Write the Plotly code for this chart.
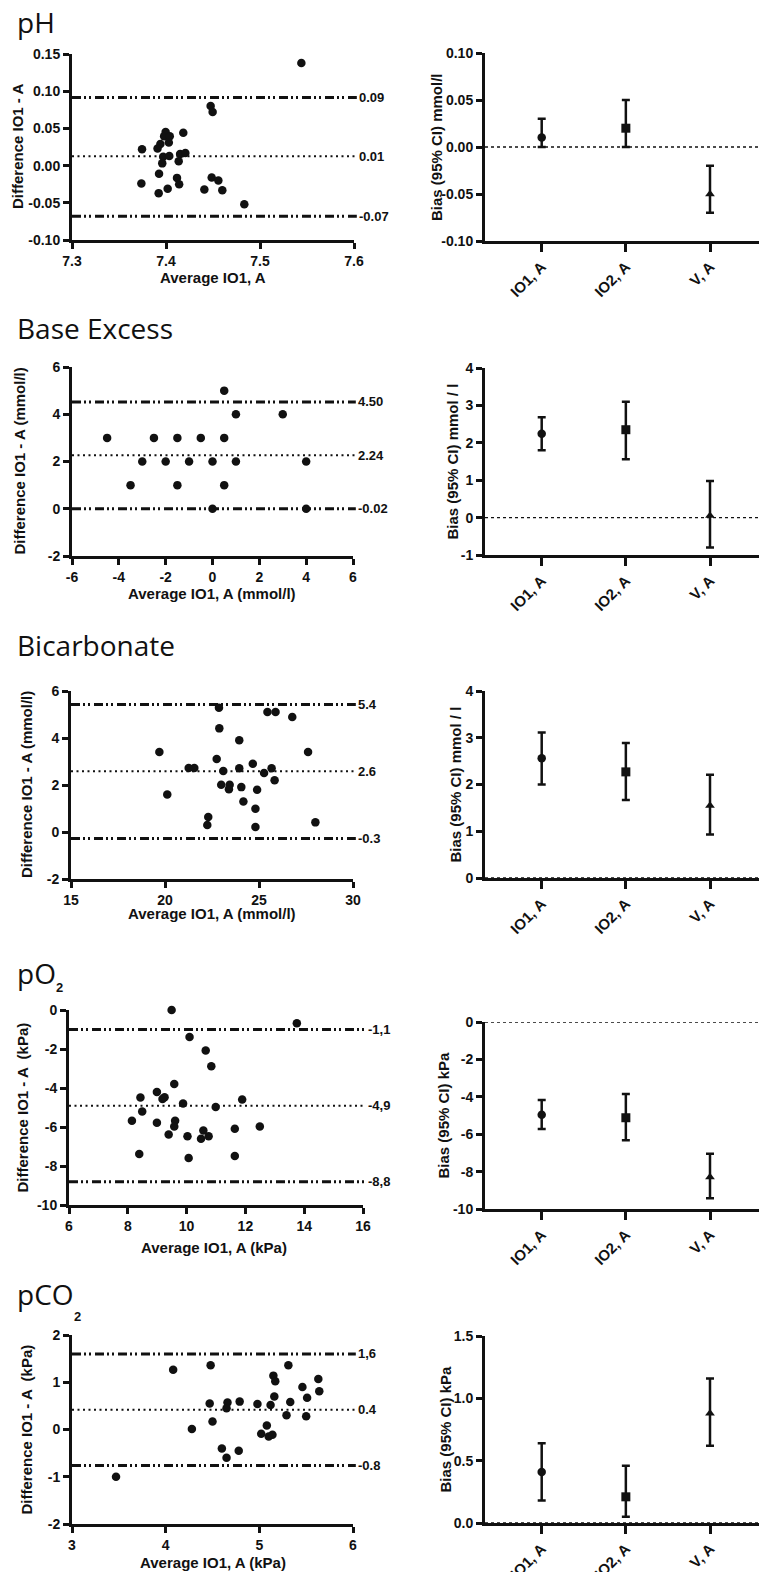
import plotly.graph_objects as go

W, H = 759, 1572

# ---------------- data ----------------
panel_titles = ["pH", "Base Excess", "Bicarbonate", "pO", "pCO"]
title_subscripts = ["", "", "", "2", "2"]
categories = ["IO1, A", "IO2, A", "V, A"]
category_symbols = ["circle", "square", "triangle-up"]

x_titles = ["Average IO1, A", "Average IO1, A (mmol/l)", "Average IO1, A (mmol/l)",
            "Average IO1, A (kPa)", "Average IO1, A (kPa)"]
y_titles = ["Difference IO1 - A", "Difference IO1 - A (mmol/l)", "Difference IO1 - A (mmol/l)",
            "Difference IO1 - A  (kPa)", "Difference IO1 - A  (kPa)"]
bias_titles = ["Bias (95% CI) mmol/l", "Bias (95% CI) mmol / l", "Bias (95% CI) mmol / l",
               "Bias (95% CI) kPa", "Bias (95% CI) kPa"]

# pH
ph_avg = [7.544, 7.4475, 7.4496, 7.4184, 7.3996, 7.398, 7.404, 7.403, 7.394, 7.391,
          7.3745, 7.397, 7.4035, 7.415, 7.4206, 7.4135, 7.396, 7.3926, 7.4117, 7.414,
          7.3738, 7.4018, 7.3922, 7.4408, 7.4486, 7.4557, 7.4599, 7.4833]
ph_diff = [0.138, 0.080, 0.072, 0.044, 0.045, 0.0395, 0.0395, 0.031, 0.029, 0.023,
           0.022, 0.012, 0.013, 0.0155, 0.017, 0.006, 0.003, -0.011, -0.0165, -0.025,
           -0.024, -0.031, -0.037, -0.032, -0.016, -0.020, -0.033, -0.052]
ph_limits = [0.0915, 0.0125, -0.068]
ph_limit_labels = ["0.09", "0.01", "-0.07"]
ph_bias = [0.01, 0.02, -0.05]
ph_ci_low = [0.0, 0.0, -0.07]
ph_ci_high = [0.03, 0.05, -0.02]

# Base excess
be_avg = [0.5, 1.0, 3.0, -4.5, -2.5, -1.5, -0.5, 0.5, -3.0, -2.0, -1.0, 0.0, 1.0, 4.0,
          -3.5, -1.5, 0.5, 0.0, 4.0]
be_diff = [5, 4, 4, 3, 3, 3, 3, 3, 2, 2, 2, 2, 2, 2, 1, 1, 1, 0, 0]
be_limits = [4.52, 2.26, 0.0]
be_limit_labels = ["4.50", "2.24", "-0.02"]
be_bias = [2.24, 2.35, 0.05]
be_ci_low = [1.80, 1.56, -0.80]
be_ci_high = [2.68, 3.10, 0.98]

# Bicarbonate
hco3_avg = [19.70, 20.12, 21.26, 21.56, 22.30, 22.25, 22.75, 22.87, 22.89, 23.10, 22.99,
            23.44, 23.40, 23.95, 23.95, 24.06, 24.17, 24.67, 24.81, 24.81, 24.90, 25.27,
            25.45, 25.88, 25.67, 25.83, 26.77, 27.61, 28.00]
hco3_diff = [3.40, 1.60, 2.72, 2.72, 0.64, 0.30, 3.11, 5.29, 4.41, 2.60, 2.01,
             2.01, 1.82, 3.90, 2.71, 1.91, 1.30, 2.90, 0.99, 0.21, 1.80, 2.51,
             5.11, 5.11, 2.71, 2.20, 4.89, 3.40, 0.41]
hco3_limits = [5.43, 2.58, -0.28]
hco3_limit_labels = ["5.4", "2.6", "-0.3"]
hco3_bias = [2.56, 2.27, 1.55]
hco3_ci_low = [2.00, 1.67, 0.93]
hco3_ci_high = [3.11, 2.89, 2.21]

# pO2
po2_avg = [9.49, 13.75, 10.10, 10.65, 10.84, 9.58, 8.99, 9.18, 9.25, 8.43, 11.89, 9.88,
           10.99, 8.49, 8.14, 8.99, 9.61, 9.58, 12.49, 11.64, 10.57, 9.39, 10.03, 10.49,
           10.75, 8.39, 10.07, 11.64]
po2_diff = [0.0, -0.68, -1.38, -2.08, -2.88, -3.79, -4.20, -4.56, -4.47, -4.49, -4.59, -4.80,
            -4.98, -5.20, -5.68, -5.78, -5.68, -5.97, -5.97, -6.09, -6.18, -6.38, -6.48, -6.60,
            -6.48, -7.39, -7.59, -7.49]
po2_limits = [-1.0, -4.91, -8.81]
po2_limit_labels = ["-1,1", "-4,9", "-8,8"]
po2_bias = [-4.96, -5.12, -8.29]
po2_ci_low = [-5.72, -6.33, -9.43]
po2_ci_high = [-4.17, -3.85, -7.04]

# pCO2
pco2_avg = [3.47, 4.08, 4.48, 4.47, 4.50, 4.28, 4.66, 4.65, 4.60, 4.65, 4.79, 4.78, 4.98,
            5.02, 5.08, 5.10, 5.14, 5.12, 5.15, 5.17, 5.16, 5.29, 5.31, 5.33, 5.46, 5.50,
            5.51, 5.63, 5.64]
pco2_diff = [-1.00, 1.265, 1.36, 0.55, 0.17, 0.01, 0.57, 0.45, -0.40, -0.60, 0.59, -0.45, 0.54,
             -0.09, 0.085, -0.15, -0.11, 0.52, 1.14, 1.02, 0.70, 0.30, 1.36, 0.58, 0.90, 0.28,
             0.67, 1.07, 0.81]
pco2_limits = [1.60, 0.42, -0.76]
pco2_limit_labels = ["1,6", "0.4", "-0.8"]
pco2_bias = [0.41, 0.21, 0.88]
pco2_ci_low = [0.18, 0.05, 0.62]
pco2_ci_high = [0.64, 0.46, 1.16]

# axis ticks
left_xticks = [[7.3, 7.4, 7.5, 7.6], [-6, -4, -2, 0, 2, 4, 6], [15, 20, 25, 30],
               [6, 8, 10, 12, 14, 16], [3, 4, 5, 6]]
left_xdec = [1, 0, 0, 0, 0]
left_yticks = [[-0.10, -0.05, 0.0, 0.05, 0.10, 0.15], [-2, 0, 2, 4, 6], [-2, 0, 2, 4, 6],
               [-10, -8, -6, -4, -2, 0], [-2, -1, 0, 1, 2]]
left_ydec = [2, 0, 0, 0, 0]
right_yticks = [[-0.10, -0.05, 0.0, 0.05, 0.10], [-1, 0, 1, 2, 3, 4], [0, 1, 2, 3, 4],
                [-10, -8, -6, -4, -2, 0], [0.0, 0.5, 1.0, 1.5]]
right_ydec = [2, 0, 0, 0, 1]

avgs = [ph_avg, be_avg, hco3_avg, po2_avg, pco2_avg]
diffs = [ph_diff, be_diff, hco3_diff, po2_diff, pco2_diff]
limits = [ph_limits, be_limits, hco3_limits, po2_limits, pco2_limits]
limit_labels = [ph_limit_labels, be_limit_labels, hco3_limit_labels, po2_limit_labels,
                pco2_limit_labels]
biases = [ph_bias, be_bias, hco3_bias, po2_bias, pco2_bias]
ci_lows = [ph_ci_low, be_ci_low, hco3_ci_low, po2_ci_low, pco2_ci_low]
ci_highs = [ph_ci_high, be_ci_high, hco3_ci_high, po2_ci_high, pco2_ci_high]

# ---------------- layout geometry (pixels) ----------------
left_px_x = [(72, 354), (72, 353), (71, 353), (69, 363), (72, 353)]
left_px_y = [(54, 240), (367, 556), (691, 879), (1010, 1205), (1335, 1524)]
right_px_x = (485, 759)
right_px_y = [(53, 241), (368, 555), (691, 878), (1022, 1209), (1336, 1523)]
cat_px = (541.7, 84.15)  # first category pixel, spacing
title_px = [(15, 22), (15, 328), (15, 645), (15, 973), (15, 1294)]
sub_px = [None, None, None, (59, 987), (77, 1316)]
xtitle_px = [(213, 277), (212, 593), (212, 914), (214, 1247), (213, 1562)]
ytitle_left_px = [17, 19, 26, 22, 26]
ytitle_right_px = [436, 452, 455, 443, 445]

INK = "#111111"
TICKFONT = dict(family="Liberation Sans, Arial", size=14, color=INK, weight="bold")
CATFONT = dict(family="Liberation Sans, Arial", size=15, color=INK, weight="bold")
LABELFONT = dict(family="Liberation Sans, Arial", size=13, color=INK, weight="bold")
TITLEFONT = dict(family="Liberation Sans, Arial", size=15, color=INK, weight="bold")


def xd(a, b):
    return [a / W, b / W]


def yd(top, bottom):
    return [1 - bottom / H, 1 - top / H]


def px(x):
    return x / W


def py(y):
    return 1 - y / H


def fmt(v, dec):
    s = f"{v:.{dec}f}"
    if s.startswith("-") and float(s) == 0:
        s = s[1:]
    return s


def ax_id(n):
    return "" if n == 1 else str(n)


def axis_common():
    return dict(showgrid=False, zeroline=False, showline=True, linewidth=3, linecolor=INK,
                ticks="outside", ticklen=6, tickwidth=3, tickcolor=INK, tickfont=TICKFONT,
                mirror=False, fixedrange=True, automargin=False)


fig = go.Figure()
layout = {}
shapes = []
annotations = []

for i in range(5):
    li = 2 * i + 1
    ri = 2 * i + 2
    lx, ly = "x" + ax_id(li), "y" + ax_id(li)
    rx, ry = "x" + ax_id(ri), "y" + ax_id(ri)

    # ---- left: Bland-Altman scatter ----
    fig.add_trace(go.Scatter(x=avgs[i], y=diffs[i], mode="markers", xaxis=lx, yaxis=ly,
                             marker=dict(color=INK, size=8.5, symbol="circle", opacity=1),
                             cliponaxis=False, showlegend=False, hoverinfo="skip"))
    xt = left_xticks[i]
    yt = left_yticks[i]
    layout["xaxis" + ax_id(li)] = dict(axis_common(), domain=xd(*left_px_x[i]), anchor=ly,
                                       range=[xt[0], xt[-1]], tickvals=xt,
                                       ticktext=[fmt(v, left_xdec[i]) for v in xt])
    layout["yaxis" + ax_id(li)] = dict(axis_common(), domain=yd(*left_px_y[i]), anchor=lx,
                                       range=[yt[0], yt[-1]], tickvals=yt,
                                       ticktext=[fmt(v, left_ydec[i]) for v in yt])
    for k, (val, lab) in enumerate(zip(limits[i], limit_labels[i])):
        if k == 1:
            line = dict(color=INK, width=2, dash="2px,3.5px")
        else:
            line = dict(color=INK, width=3, dash="9px,3px,2px,3px,2px,4px")
        shapes.append(dict(type="line", xref=f"{lx} domain", yref=ly, x0=0, x1=1.01,
                           y0=val, y1=val, line=line, layer="below"))
        annotations.append(dict(xref=f"{lx} domain", yref=ly, x=1.0, y=val, text=lab,
                                showarrow=False, xanchor="left", yanchor="middle", xshift=3,
                                font=LABELFONT))

    # ---- right: bias with CI (one trace per category) ----
    for c, cat in enumerate(categories):
        bval = biases[i][c]
        fig.add_trace(go.Scatter(
            x=[c], y=[bval], mode="markers", xaxis=rx, yaxis=ry,
            marker=dict(color=INK, size=9 if c == 1 else 8.5, symbol=category_symbols[c],
                        opacity=1, line=dict(width=0)),
            error_y=dict(type="data", array=[ci_highs[i][c] - bval],
                         arrayminus=[bval - ci_lows[i][c]], color=INK, thickness=2.5,
                         width=4),
            cliponaxis=False, showlegend=False, hoverinfo="skip", name=cat))
    c0, dc = cat_px
    xr = [(right_px_x[0] - c0) / dc, (right_px_x[1] - c0) / dc]
    ryt = right_yticks[i]
    layout["xaxis" + ax_id(ri)] = dict(axis_common(), domain=xd(*right_px_x), anchor=ry,
                                       range=xr, tickvals=list(range(len(categories))),
                                       ticktext=categories, tickangle=-45, ticklen=8,
                                       tickfont=CATFONT)
    layout["yaxis" + ax_id(ri)] = dict(axis_common(), domain=yd(*right_px_y[i]), anchor=rx,
                                       range=[ryt[0], ryt[-1]], tickvals=ryt,
                                       ticktext=[fmt(v, right_ydec[i]) for v in ryt])
    shapes.append(dict(type="line", xref=f"{rx} domain", yref=ry, x0=0, x1=1,
                       y0=0, y1=0, line=dict(color=INK, width=1.3, dash="dot"),
                       layer="below"))

    # ---- text: titles ----
    tx, ty = title_px[i]
    annotations.append(dict(xref="paper", yref="paper", x=px(tx), y=py(ty),
                            text=panel_titles[i], showarrow=False, xanchor="left",
                            yanchor="middle",
                            font=dict(family="Open Sans", size=28, color=INK)))
    if sub_px[i]:
        sx, sy = sub_px[i]
        annotations.append(dict(xref="paper", yref="paper", x=px(sx), y=py(sy),
                                text=title_subscripts[i], showarrow=False, xanchor="center",
                                yanchor="middle", font=LABELFONT))
    ax_, ay_ = xtitle_px[i]
    annotations.append(dict(xref="paper", yref="paper", x=px(ax_), y=py(ay_),
                            text=x_titles[i], showarrow=False, xanchor="center",
                            yanchor="middle", font=TITLEFONT))
    lyc = (left_px_y[i][0] + left_px_y[i][1]) / 2
    annotations.append(dict(xref="paper", yref="paper", x=px(ytitle_left_px[i]), y=py(lyc),
                            text=y_titles[i], showarrow=False, xanchor="center",
                            yanchor="middle", textangle=-90, font=TITLEFONT))
    ryc = (right_px_y[i][0] + right_px_y[i][1]) / 2
    annotations.append(dict(xref="paper", yref="paper", x=px(ytitle_right_px[i]), y=py(ryc),
                            text=bias_titles[i], showarrow=False, xanchor="center",
                            yanchor="middle", textangle=-90, font=TITLEFONT))

fig.update_layout(width=W, height=H,
                  margin=dict(l=0, r=0, t=0, b=0, pad=0, autoexpand=False),
                  paper_bgcolor="white", plot_bgcolor="white", showlegend=False,
                  hovermode=False, shapes=shapes, annotations=annotations, **layout)

fig.write_html("out.html", config={"displayModeBar": False, "staticPlot": True},
               post_script="document.body.style.margin='0';"
                           "document.body.style.overflow='hidden';")
